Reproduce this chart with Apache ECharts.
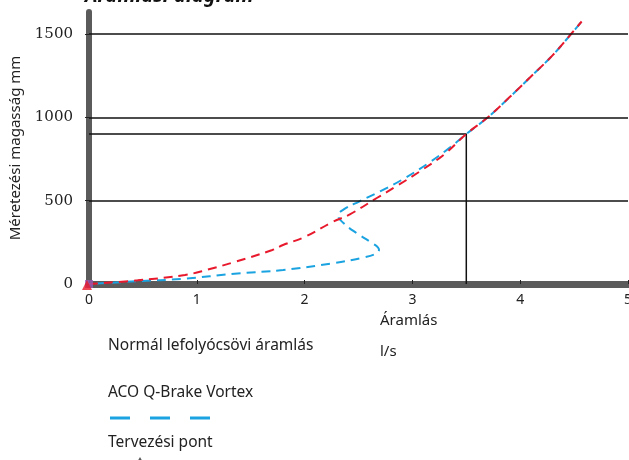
<!DOCTYPE html>
<html>
<head>
<meta charset="utf-8">
<script src="https://cdn.jsdelivr.net/npm/echarts@6/dist/echarts.min.js"></script>
<style>
  html, body { margin: 0; padding: 0; background: #fff; }
  #chart { width: 629px; height: 460px; }
</style>
</head>
<body>
<div id="chart"></div>
<script>
// Flow diagram: water height (mm) against flow rate (l/s)
const titleText = 'Áramlási diagram';
const xAxisName = 'Áramlás';
const xAxisUnit = 'l/s';
const yAxisName = 'Méretezési magasság mm';

const normalName = 'Normál lefolyócsövi áramlás';
const vortexName = 'ACO Q-Brake Vortex';
const designName = 'Tervezési pont';

// [flow l/s, height mm]
const normalFlow = [
  [0, 0], [0.45, 22], [0.89, 54], [1.1, 86], [1.35, 132], [1.7, 204], [1.8, 234],
  [2.0, 282], [2.26, 372], [2.42, 418], [2.67, 516], [2.86, 590], [3.07, 676],
  [3.3, 780], [3.5, 900], [3.7, 1000], [3.9, 1120], [4.1, 1245], [4.3, 1372],
  [4.48, 1506], [4.57, 1575]
];
const vortexFlow = [
  [0, 0], [0.43, 16], [0.89, 32], [1.35, 62], [1.8, 84], [2.26, 124], [2.54, 158],
  [2.67, 184], [2.69, 206], [2.62, 248], [2.48, 306], [2.36, 366], [2.31, 412],
  [2.36, 446], [2.51, 496], [2.7, 556], [2.9, 624], [3.16, 730], [3.35, 820],
  [3.5, 900], [3.7, 1000], [3.9, 1120], [4.1, 1245], [4.3, 1372], [4.48, 1506],
  [4.57, 1575]
];
const designPoint = [3.5, 900];

// horizontal reference lines (mm)
const gridLevels = [500, 1000, 1500];

const xTicks = { min: 0, max: 5, interval: 1 };
const yTicks = { min: 0, max: 1632, interval: 500 };

const font = '"Noto Sans", "Open Sans", sans-serif';
const chart = echarts.init(document.getElementById('chart'), null, { renderer: 'canvas' });

chart.setOption({
  animation: false,
  backgroundColor: '#fff',
  grid: { left: 89, right: 1, top: 12, bottom: 176, containLabel: false, outerBoundsMode: 'none' },
  xAxis: {
    type: 'value',
    min: xTicks.min, max: xTicks.max, interval: xTicks.interval,
    axisLine: { show: true, lineStyle: { color: '#5b5b5b', width: 7 } },
    axisTick: { show: true, inside: true, length: 4, lineStyle: { color: '#222', width: 1 } },
    axisLabel: { color: '#222', fontSize: 14, fontFamily: font, margin: 9 },
    splitLine: { show: false }
  },
  yAxis: {
    type: 'value',
    min: yTicks.min, max: yTicks.max, interval: yTicks.interval,
    name: yAxisName,
    nameLocation: 'middle',
    nameRotate: 90,
    nameGap: 66,
    nameTextStyle: { color: '#222', fontSize: 15, fontFamily: font },
    axisLine: { show: true, lineStyle: { color: '#5b5b5b', width: 6, cap: 'round' } },
    axisTick: { show: true, length: 4, lineStyle: { color: '#222', width: 1 } },
    axisLabel: {
      color: '#222', fontSize: 15, fontFamily: '"DejaVu Serif", serif', margin: 16,
      showMaxLabel: false,
      formatter: v => String(v)
    },
    splitLine: { show: false }
  },
  series: [
    {
      name: designName,
      type: 'line',
      data: [[0, designPoint[1]], designPoint, [designPoint[0], 0]],
      symbol: 'none',
      lineStyle: { color: '#111', width: 1.5 },
      markLine: {
        silent: true,
        symbol: 'none',
        label: { show: false },
        lineStyle: { color: '#111', width: 1.5, type: 'solid' },
        data: gridLevels.map(v => ({ yAxis: v }))
      },
      z: 2
    },
    {
      name: vortexName,
      type: 'line',
      data: vortexFlow,
      smooth: 0.4,
      symbol: 'none',
      lineStyle: { color: '#1aa3e0', width: 2, type: [9, 6], dashOffset: 7 },
      z: 3
    },
    {
      name: normalName,
      type: 'line',
      data: normalFlow,
      smooth: 0.4,
      symbol: 'none',
      lineStyle: { color: '#e8192c', width: 2, type: [9, 6] },
      z: 4
    },
    {
      type: 'scatter',
      data: [[0, 0]],
      symbol: 'rect',
      symbolSize: 8,
      itemStyle: { color: '#9b59b6' },
      z: 5
    },
    {
      type: 'scatter',
      data: [[0, 0]],
      symbol: 'triangle',
      symbolSize: 10,
      symbolOffset: [-2, 1],
      itemStyle: { color: '#e8192c' },
      z: 6
    }
  ],
  graphic: [
    {
      type: 'text', left: 85, top: -14,
      style: { text: titleText, font: 'italic bold 20px ' + font, fill: '#111' }
    },
    {
      type: 'text', left: 380, top: 313,
      style: { text: xAxisName, font: '15px ' + font, fill: '#222' }
    },
    {
      type: 'text', left: 380, top: 344,
      style: { text: xAxisUnit, font: '15px ' + font, fill: '#222' }
    },
    {
      type: 'text', left: 108, top: 338,
      style: { text: normalName, font: '15.5px ' + font, fill: '#222' }
    },
    {
      type: 'text', left: 108, top: 385,
      style: { text: vortexName, font: '15.5px ' + font, fill: '#222' }
    },
    {
      type: 'line',
      shape: { x1: 110, y1: 418, x2: 211, y2: 418 },
      style: { stroke: '#1aa3e0', lineWidth: 3, lineDash: [20, 20] }
    },
    {
      type: 'text', left: 108, top: 435,
      style: { text: designName, font: '15.5px ' + font, fill: '#222' }
    },
    {
      type: 'polygon',
      shape: { points: [[136, 464], [140, 457], [144, 464]] },
      style: { fill: '#555' }
    }
  ]
});
</script>
</body>
</html>
